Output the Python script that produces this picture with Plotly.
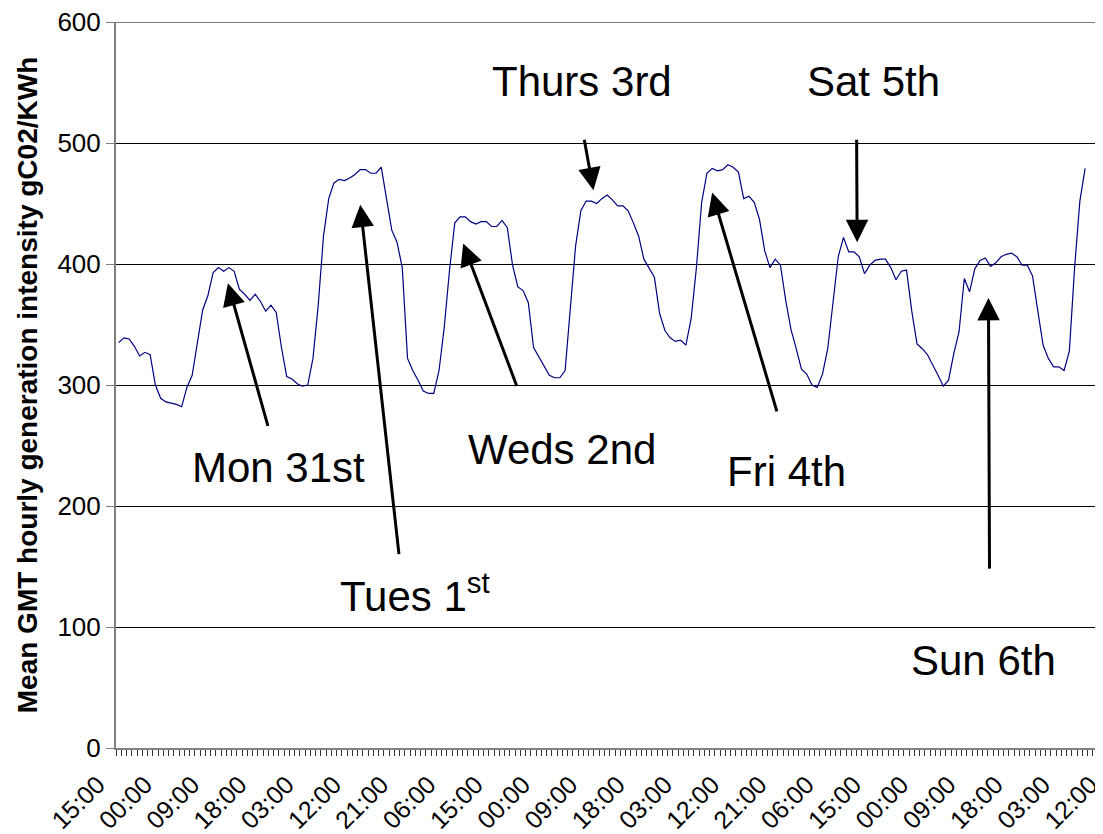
import plotly.graph_objects as go

# Hourly mean carbon intensity (gCO2/kWh), one value per hour starting Sun 15:00
intensity = [
    335, 339, 338, 332, 324, 327, 325, 300, 289, 286, 285, 284, 282, 298, 308, 334,
    362, 374, 393, 397, 394, 397, 394, 379, 375, 370, 375, 369, 361, 366, 360, 331,
    307, 305, 301, 299, 300, 322, 366,
    423, 454, 467, 470, 469, 471, 474, 478, 478, 475, 475, 480, 454, 428, 418, 397,
    322, 312, 304, 295, 293, 293, 312, 348, 395, 434, 439, 439, 435, 433, 435, 435,
    431, 431, 436, 430, 399, 381, 378, 368, 331, 323, 316, 308,
    306, 306, 312, 364, 415, 444, 452, 452, 450, 454, 457, 453, 448, 448, 444, 434,
    423, 404, 396, 389, 359, 345, 339, 336, 337, 333, 355, 397, 451, 475, 479, 477,
    478, 482, 480, 476, 454, 456, 451, 437, 411, 397, 404, 399,
    370, 346, 330, 313, 309, 300, 298, 309, 330, 370, 406, 422, 410, 410, 406, 392,
    399, 403, 404, 404, 397, 387, 394, 395, 361, 334, 330, 325, 317, 308, 299, 304,
    326, 344, 388, 377, 396, 403, 405, 398, 401, 406, 408, 409, 406, 399, 399, 390,
    361, 333, 322, 315, 315, 312, 328, 397, 452, 479,
]
hour_index = list(range(len(intensity)))

# Category labels shown every 9 hours
tick_labels = ["15:00", "00:00", "09:00", "18:00", "03:00", "12:00", "21:00", "06:00",
               "15:00", "00:00", "09:00", "18:00", "03:00", "12:00", "21:00", "06:00",
               "15:00", "00:00", "09:00", "18:00", "03:00", "12:00"]
label_step = 9
tick_positions = [k * label_step for k in range(len(tick_labels))]
n_categories = 190
y_ticks = [0, 100, 200, 300, 400, 500, 600]

# Day labels (centres, in paper fractions of the plot area)
day_labels = ["Mon 31st", "Tues 1<sup>st</sup>", "Weds 2nd", "Thurs 3rd", "Fri 4th", "Sat 5th", "Sun 6th"]
day_label_px = [0.1633, 0.2996, 0.4469, 0.4669, 0.6723, 0.7595, 0.8697]
day_label_py = [0.3857, 0.2135, 0.4105, 0.9174, 0.3815, 0.9174, 0.1212]
# Arrows: head (x, y) and tail (x, y) in data units
arrow_head_x = [20.8, 46.0, 65.6, 90.4, 113.0, 140.6, 165.6]
arrow_head_y = [384, 449, 417, 461, 459, 418, 372]
arrow_tail_x = [28.5, 53.4, 75.9, 88.6, 125.4, 140.5, 165.8]
arrow_tail_y = [265, 159, 298, 504, 277, 504, 147]

FONT = "Liberation Sans, Arial, sans-serif"

fig = go.Figure()
fig.add_trace(go.Scatter(
    x=hour_index, y=intensity, mode="lines",
    line=dict(color="#000080", width=1.2),
    showlegend=False, hoverinfo="x+y",
))

annotations = []
for t, x, y in zip(day_labels, day_label_px, day_label_py):
    annotations.append(dict(x=x, y=y, xref="paper", yref="paper", text=t, showarrow=False,
                            xanchor="center", yanchor="middle",
                            font=dict(family=FONT, size=42, color="black")))
for hx, hy, tx, ty in zip(arrow_head_x, arrow_head_y, arrow_tail_x, arrow_tail_y):
    annotations.append(dict(x=hx, y=hy, ax=tx, ay=ty, xref="x", yref="y",
                            axref="x", ayref="y", text="", showarrow=True,
                            arrowhead=2, arrowsize=1.5, arrowwidth=3,
                            arrowcolor="black", standoff=0, startstandoff=0))

# The page keeps the browser's 8px body margin; like the reference (a cropped chart),
# the plot area runs slightly past the right edge of the window.
fig.update_layout(
    width=1106, height=826,
    margin=dict(l=108, r=0, t=14, b=86),
    paper_bgcolor="white", plot_bgcolor="white",
    font=dict(family=FONT, color="black"),
    annotations=annotations,
    shapes=[dict(type="line", xref="paper", yref="y", x0=0, x1=1, y0=600, y1=600,
                 line=dict(color="black", width=1))],
    xaxis=dict(
        range=[-0.5, n_categories - 0.5], automargin=False,
        tickmode="array", tickvals=tick_positions, ticktext=tick_labels,
        tickangle=-45, ticks="", showgrid=False, zeroline=False,
        showline=True, linecolor="#808080", linewidth=2,
        tickfont=dict(family=FONT, size=25, color="black"),
        ticklabelshift=-21, ticklabelstandoff=10, ticklabeloverflow="allow",
        minor=dict(tickmode="linear", tick0=-0.5, dtick=1, ticks="outside",
                   ticklen=6, tickcolor="#333333", tickwidth=1, showgrid=False),
    ),
    yaxis=dict(
        range=[0, 600], tickmode="array", tickvals=y_ticks, automargin=False,
        showgrid=True, gridcolor="black", gridwidth=1, zeroline=False,
        showline=True, linecolor="#808080", linewidth=2,
        ticks="outside", ticklen=8, tickcolor="#808080",
        tickfont=dict(family=FONT, size=26, color="black"),
        ticklabeloverflow="allow",
        title=dict(text="<b>Mean GMT hourly generation intensity gC02/KWh</b>",
                   font=dict(family=FONT, size=28, color="black"), standoff=12),
    ),
)

fig.write_html("out.html")
